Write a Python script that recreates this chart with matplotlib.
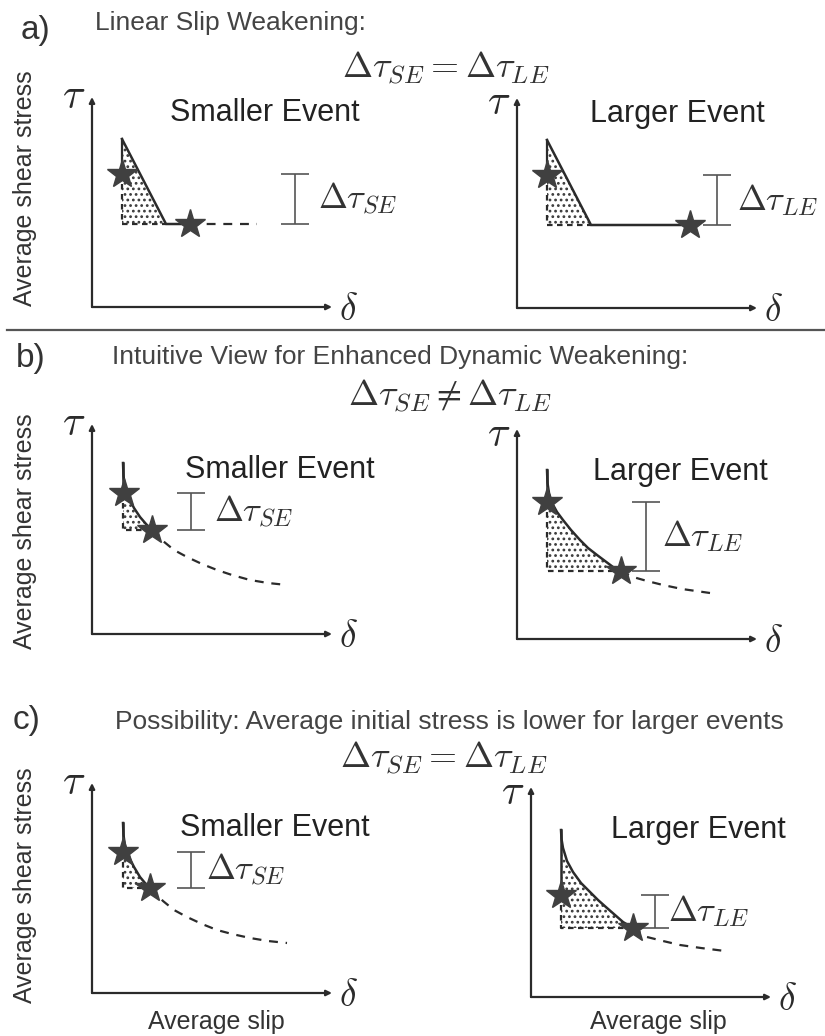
import numpy as np
import matplotlib
matplotlib.use("Agg")
import matplotlib.pyplot as plt

plt.rcParams['font.family'] = ['Liberation Sans', 'DejaVu Sans']
plt.rcParams['mathtext.fontset'] = 'cm'
plt.rcParams['hatch.linewidth'] = 1.2
plt.rcParams['hatch.color'] = '#3a3a3a'

W, H = 825, 1036
INK = '#2b2b2b'
STAR = '#404040'
DOTS = '...'

# --- a) linear slip weakening (slip / stress in arbitrary units) ---
lin_start = 3.0        # slip where weakening starts
lin_peak = 16.8        # peak strength
lin_dc = 7.4           # slip where residual is reached
lin_resid = 8.3        # residual strength
lin_star1 = 13.3       # initial stress
lin_star2_se = 9.8     # final slip, smaller event
lin_star2_le = 17.3    # final slip, larger event
lin_tail_se = 16.5     # end of dashed residual, smaller event

# --- b) enhanced dynamic weakening ---
b_se_slip = [3.1, 3.15, 3.3, 3.6, 4.2, 4.8, 5.4, 6.0, 7.1, 8.2, 9.5, 11.0, 12.5, 14.0, 15.8, 17.6, 19.5]
b_se_stress = [17.1, 15.8, 14.6, 13.8, 12.6, 11.7, 11.0, 10.4, 9.3, 8.4, 7.7, 7.0, 6.4, 5.9, 5.4, 5.1, 4.9]
b_se_star1 = (3.2, 14.1)
b_se_star2 = (6.0, 10.4)

b_le_slip = [3.0, 3.05, 3.2, 3.5, 4.0, 4.6, 5.4, 6.3, 7.1, 8.0, 8.8, 9.6, 10.4, 11.6, 13.0, 14.6, 16.5, 19.3]
b_le_stress = [16.9, 15.6, 14.6, 13.6, 12.7, 11.9, 10.9, 9.9, 9.1, 8.4, 7.8, 7.2, 6.8, 6.2, 5.8, 5.4, 5.0, 4.6]
b_le_star1 = (3.0, 13.7)
b_le_star2 = (10.4, 6.8)

# --- c) lower initial stress for larger events ---
c_se_slip = [3.1, 3.15, 3.3, 3.6, 4.2, 4.8, 5.3, 5.8, 7.1, 8.2, 9.5, 11.0, 12.5, 14.0, 15.8, 17.6, 19.5]
c_se_stress = [17.0, 15.8, 14.7, 13.8, 12.6, 11.6, 11.0, 10.5, 9.2, 8.3, 7.6, 6.9, 6.3, 5.9, 5.5, 5.2, 5.0]
c_se_star1 = (3.1, 14.1)
c_se_star2 = (5.8, 10.5)

c_le_slip = [3.0, 3.05, 3.2, 3.6, 4.2, 5.0, 5.9, 6.7, 7.6, 8.4, 9.2, 10.2, 11.6, 13.2, 14.9, 17.0, 19.4]
c_le_stress = [16.7, 15.8, 14.9, 13.6, 12.5, 11.4, 10.5, 9.7, 8.9, 8.2, 7.5, 6.9, 6.0, 5.6, 5.2, 4.9, 4.6]
c_le_star1 = (3.0, 10.2)
c_le_star2 = (10.2, 6.9)

fig = plt.figure(figsize=(W / 100, H / 100), dpi=100)


def panel(ox, oy, tau_y=21.0):
    # axes whose data origin sits at pixel (ox, oy); 1 unit = 10 px
    ax = fig.add_axes([ox / W, 1 - oy / H, 240 / W, 210 / H])
    ax.set_xlim(0, 24)
    ax.set_ylim(0, 21)
    ax.set_axis_off()
    arrow = dict(arrowstyle='-|>', lw=1.6, color=INK, mutation_scale=8, shrinkA=0, shrinkB=0)
    ax.annotate('', xy=(24, 0), xytext=(0, 0), arrowprops=arrow, annotation_clip=False)
    ax.annotate('', xy=(0, 21), xytext=(0, 0), arrowprops=arrow, annotation_clip=False)
    ax.text(-1.8, tau_y, r'$\tau$', fontsize=30, ha='center', va='center', color=INK)
    ax.text(25.6, -0.3, r'$\delta$', fontsize=27, ha='center', va='center', color=INK)
    return ax


def stars(ax, p1, p2):
    ax.plot([p1[0], p2[0]], [p1[1], p2[1]], ls='none', marker='*', ms=22,
            color=STAR, mec=STAR, zorder=6, clip_on=False)


def drop_bar(ax, xb, lo, hi, label, lx):
    ax.errorbar(xb, (lo + hi) / 2, yerr=(hi - lo) / 2, fmt='none', ecolor='#555555',
                elinewidth=1.2, capsize=10, capthick=1.2, clip_on=False)
    ax.text(lx, (lo + hi) / 2, label, fontsize=25, ha='left', va='center', color='#333333')


def curve_panel(ax, slip, stress, s1, s2):
    slip = np.array(slip)
    stress = np.array(stress)
    solid = slip <= s2[0] + 1e-9
    tail = slip >= s2[0] - 1e-9
    ax.fill_between(slip[solid], s2[1], stress[solid], facecolor='white',
                    hatch=DOTS, edgecolor='#3a3a3a', lw=0, zorder=2)
    ax.plot(slip[solid], stress[solid], color=INK, lw=1.8, zorder=4)
    ax.plot(slip[tail], stress[tail], color=INK, lw=1.6, ls=(0, (4, 3.5)), zorder=4)
    ax.plot([slip[0], slip[0]], [stress[0], s1[1]], color=INK, lw=1.8, zorder=4)
    ax.plot([slip[0], slip[0], s2[0]], [s1[1], s2[1], s2[1]], color=INK, lw=1.6,
            ls=(0, (2.5, 2)), zorder=3)
    stars(ax, s1, s2)


def ftext(x, y, s, **kw):
    fig.text(x / W, 1 - y / H, s, **kw)


# ---------- a) ----------
for ox, oy, s2x, tail, title, tx, bx, lab, lx, ty in [
        (92, 307, lin_star2_se, lin_tail_se, 'Smaller Event', 17.3, 20.3, r'$\Delta\tau_{SE}$', 22.6, 21.0),
        (517, 308, lin_star2_le, None, 'Larger Event', 16.0, 20.0, r'$\Delta\tau_{LE}$', 22.0, 20.5)]:
    ax = panel(ox, oy, ty)
    ax.fill_between([lin_start, lin_dc], lin_resid, [lin_peak, lin_resid], facecolor='white',
                    hatch=DOTS, edgecolor='#3a3a3a', lw=0, zorder=2)
    ax.plot([lin_start, lin_start], [lin_peak, lin_star1], color=INK, lw=1.6, zorder=4)
    ax.plot([lin_start, lin_dc, s2x], [lin_peak, lin_resid, lin_resid], color=INK, lw=1.8, zorder=4)
    ax.plot([lin_start, lin_start, lin_dc], [lin_star1, lin_resid, lin_resid], color=INK,
            lw=1.6, ls=(0, (2.5, 2)), zorder=3)
    if tail is not None:
        ax.plot([s2x, tail], [lin_resid, lin_resid], color=INK, lw=1.6, ls=(0, (4, 3.5)))
    stars(ax, (lin_start, lin_star1), (s2x, lin_resid))
    drop_bar(ax, bx, lin_resid, lin_star1, lab, lx)
    ax.text(tx, 19.4, title, fontsize=22, ha='center', va='center', color='#222222')

# ---------- b) ----------
ax = panel(92, 634)
curve_panel(ax, b_se_slip, b_se_stress, b_se_star1, b_se_star2)
drop_bar(ax, 9.9, b_se_star2[1], b_se_star1[1], r'$\Delta\tau_{SE}$', 12.2)
ax.text(18.8, 16.4, 'Smaller Event', fontsize=22, ha='center', va='center', color='#222222')

ax = panel(517, 639, 20.4)
curve_panel(ax, b_le_slip, b_le_stress, b_le_star1, b_le_star2)
drop_bar(ax, 12.9, b_le_star2[1], b_le_star1[1], r'$\Delta\tau_{LE}$', 14.5)
ax.text(16.3, 16.7, 'Larger Event', fontsize=22, ha='center', va='center', color='#222222')

# ---------- c) ----------
ax = panel(92, 993)
curve_panel(ax, c_se_slip, c_se_stress, c_se_star1, c_se_star2)
drop_bar(ax, 9.9, c_se_star2[1], c_se_star1[1], r'$\Delta\tau_{SE}$', 11.4)
ax.text(18.3, 16.5, 'Smaller Event', fontsize=22, ha='center', va='center', color='#222222')

ax = panel(531, 997, 20.4)
curve_panel(ax, c_le_slip, c_le_stress, c_le_star1, c_le_star2)
drop_bar(ax, 12.4, c_le_star2[1], c_le_star1[1], r'$\Delta\tau_{LE}$', 13.7)
ax.text(16.7, 16.7, 'Larger Event', fontsize=22, ha='center', va='center', color='#222222')

# ---------- headings ----------
lab_kw = dict(fontsize=24, ha='center', va='center', color='#333333')
head_kw = dict(fontsize=19, ha='left', va='center', color='#444444')
eq_kw = dict(fontsize=26, ha='center', va='center', color='#333333')

ftext(35, 30, 'a)', **lab_kw)
ftext(95, 23, 'Linear Slip Weakening:', **head_kw)
ftext(446, 68, r'$\Delta\tau_{SE} = \Delta\tau_{LE}$', **eq_kw)

ftext(31, 358, 'b)', **lab_kw)
ftext(112, 357, 'Intuitive View for Enhanced Dynamic Weakening:', **head_kw)
ftext(450, 396, r'$\Delta\tau_{SE} \neq \Delta\tau_{LE}$', **eq_kw)

ftext(27, 721, 'c)', **lab_kw)
ftext(115, 722, 'Possibility: Average initial stress is lower for larger events', **head_kw)
ftext(444, 758, r'$\Delta\tau_{SE} = \Delta\tau_{LE}$', **eq_kw)

ylab_kw = dict(fontsize=18, ha='center', va='center', rotation=90, color='#333333')
ftext(25, 188, 'Average shear stress', **ylab_kw)
ftext(25, 531, 'Average shear stress', **ylab_kw)
ftext(25, 885, 'Average shear stress', **ylab_kw)

ftext(216, 1022, 'Average slip', fontsize=18, ha='center', va='center', color='#333333')
ftext(658, 1022, 'Average slip', fontsize=18, ha='center', va='center', color='#333333')

# divider between a) and b)
fig.add_artist(plt.Line2D([7 / W, 1], [1 - 330 / H, 1 - 330 / H], color='#555555', lw=1.6))

fig.savefig('out.png', dpi=100, facecolor='white')
